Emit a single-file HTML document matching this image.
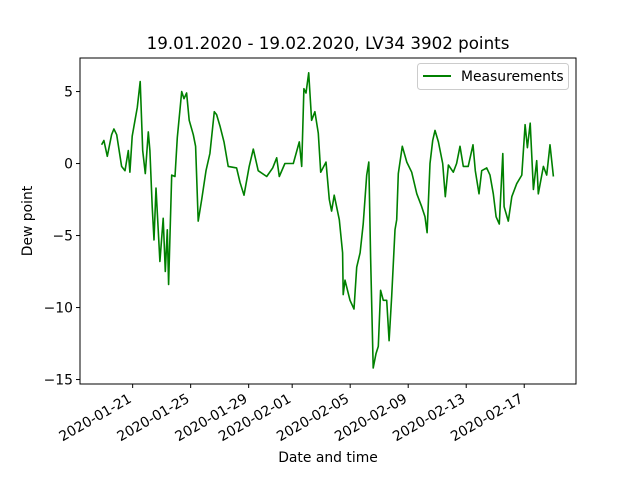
<!DOCTYPE html>
<html><head><meta charset="utf-8"><style>
html,body{margin:0;padding:0;background:#fff;}
svg text{font-family:"DejaVu Sans","Liberation Sans",sans-serif;fill:#000;}
</style></head><body>
<svg id="chart" width="640" height="480" xmlns="http://www.w3.org/2000/svg">
<rect x="0" y="0" width="640" height="480" fill="#fff"/>
<text x="328" y="49" font-size="16.7" text-anchor="middle">19.01.2020 - 19.02.2020, LV34 3902 points</text>
<g id="plot"></g>
<g id="axes"></g>
<text x="328" y="462" font-size="13.9" text-anchor="middle">Date and time</text>
<text transform="translate(32,221) rotate(-90)" font-size="13.9" text-anchor="middle">Dew point</text>
<g>
<rect x="417.5" y="63.5" width="151" height="26" rx="3" fill="#fff" stroke="#ccc"/>
<line x1="423" y1="76" x2="451" y2="76" stroke="#008000" stroke-width="2"/>
<text x="461" y="81" font-size="13.9">Measurements</text>
</g>
</svg>
<script>
// days since 2020-01-21
const days=[-2.14,-1.98,-1.75,-1.45,-1.29,-1.10,-0.76,-0.53,-0.30,-0.19,-0.03,0.16,0.32,0.52,0.69,0.87,1.08,1.19,1.35,1.47,1.61,1.88,2.11,2.25,2.39,2.48,2.69,2.92,3.08,3.38,3.54,3.72,3.90,4.18,4.34,4.52,4.76,5.06,5.33,5.63,5.79,6.02,6.30,6.59,7.17,7.40,7.68,8.04,8.32,8.66,9.24,9.66,9.93,10.11,10.50,11.08,11.49,11.66,11.81,11.95,12.14,12.34,12.57,12.80,12.97,13.33,13.56,13.72,13.90,14.25,14.48,14.52,14.64,14.99,15.26,15.45,15.68,15.90,16.14,16.28,16.41,16.59,16.78,16.94,17.10,17.28,17.52,17.68,17.86,18.09,18.21,18.32,18.59,18.90,19.24,19.59,19.93,20.16,20.30,20.50,20.69,20.85,21.08,21.38,21.56,21.77,22.11,22.34,22.57,22.80,23.14,23.47,23.63,23.88,24.07,24.41,24.64,24.87,25.06,25.28,25.52,25.61,25.90,26.14,26.48,26.83,27.06,27.22,27.41,27.63,27.86,27.97,28.32,28.55,28.78,29.01];
const dew=[1.3,1.6,0.5,2.0,2.4,2.0,-0.2,-0.5,0.9,-0.6,1.9,3.0,3.9,5.7,0.9,-0.7,2.2,0.9,-3.0,-5.3,-1.7,-6.8,-3.8,-7.5,-4.6,-8.4,-0.8,-0.9,1.8,5.0,4.5,4.9,3.0,2.0,1.2,-4.0,-2.5,-0.5,0.7,3.6,3.4,2.6,1.5,-0.2,-0.3,-1.3,-2.2,-0.2,1.0,-0.5,-0.9,-0.3,0.4,-0.9,0.0,0.0,1.5,-0.2,5.2,4.9,6.3,3.0,3.6,2.1,-0.6,0.1,-2.5,-3.3,-2.2,-3.9,-6.2,-9.1,-8.1,-9.5,-10.1,-7.2,-6.2,-4.2,-0.8,0.1,-6.5,-14.2,-13.2,-12.7,-8.8,-9.5,-9.5,-12.3,-9.2,-4.6,-3.9,-0.7,1.2,0.1,-0.6,-2.1,-3.0,-3.7,-4.8,0.0,1.6,2.3,1.5,0.0,-2.3,-0.1,-0.6,0.0,1.2,-0.2,-0.2,1.3,-0.5,-2.1,-0.5,-0.3,-0.8,-2.1,-3.7,-4.2,0.7,-3.0,-4.0,-2.3,-1.4,-0.8,2.7,1.1,2.8,-1.8,0.2,-2.1,-0.2,-0.8,1.3,-0.9];
const xTickDays=[0,4,8,11,15,19,23,27];
const xTickLabels=["2020-01-21","2020-01-25","2020-01-29","2020-02-01","2020-02-05","2020-02-09","2020-02-13","2020-02-17"];
const yTicks=[5,0,-5,-10,-15];
const yTickLabels=["5","0","\u22125","\u221210","\u221215"];

const L=80,R=576,T=58,B=384;
const dMin=-3.63,dMax=30.57,vMin=-15.31,vMax=7.33;
const xs=d=>L+(d-dMin)/(dMax-dMin)*(R-L);
const ys=v=>B-(v-vMin)/(vMax-vMin)*(B-T);
const NS="http://www.w3.org/2000/svg";
const plot=document.getElementById('plot'),axes=document.getElementById('axes');
function mk(tag,attrs,parent){const e=document.createElementNS(NS,tag);for(const k in attrs)e.setAttribute(k,attrs[k]);parent.appendChild(e);return e;}

let d='';
for(let i=0;i<days.length;i++){d+=(i?'L':'M')+xs(days[i]).toFixed(1)+' '+ys(dew[i]).toFixed(1);}
const line=mk('path',{d:d,fill:'none',stroke:'#008000','stroke-width':1.6,'stroke-linejoin':'round'},plot);



const frame=mk('rect',{x:L,y:T,width:R-L,height:B-T,fill:'none',stroke:'#000','stroke-width':1},axes);



for(let i=0;i<xTickDays.length;i++){
  const x=xs(xTickDays[i]);
  const t=mk('line',{x1:x,y1:B,x2:x,y2:B+4,stroke:'#000'},axes);
  
  
  const lb=mk('text',{transform:`translate(${x-5},${B+9}) rotate(-30)`,'font-size':13.9,'text-anchor':'end','dominant-baseline':'hanging'},axes);
  lb.textContent=xTickLabels[i];
  
  
}
for(let i=0;i<yTicks.length;i++){
  const y=ys(yTicks[i]);
  const t=mk('line',{x1:L-4,y1:y,x2:L,y2:y,stroke:'#000'},axes);
  
  
  const lb=mk('text',{x:L-7,y:y+5,'font-size':13.9,'text-anchor':'end'},axes);
  lb.textContent=yTickLabels[i];
  
  
}
</script>
</body></html>
